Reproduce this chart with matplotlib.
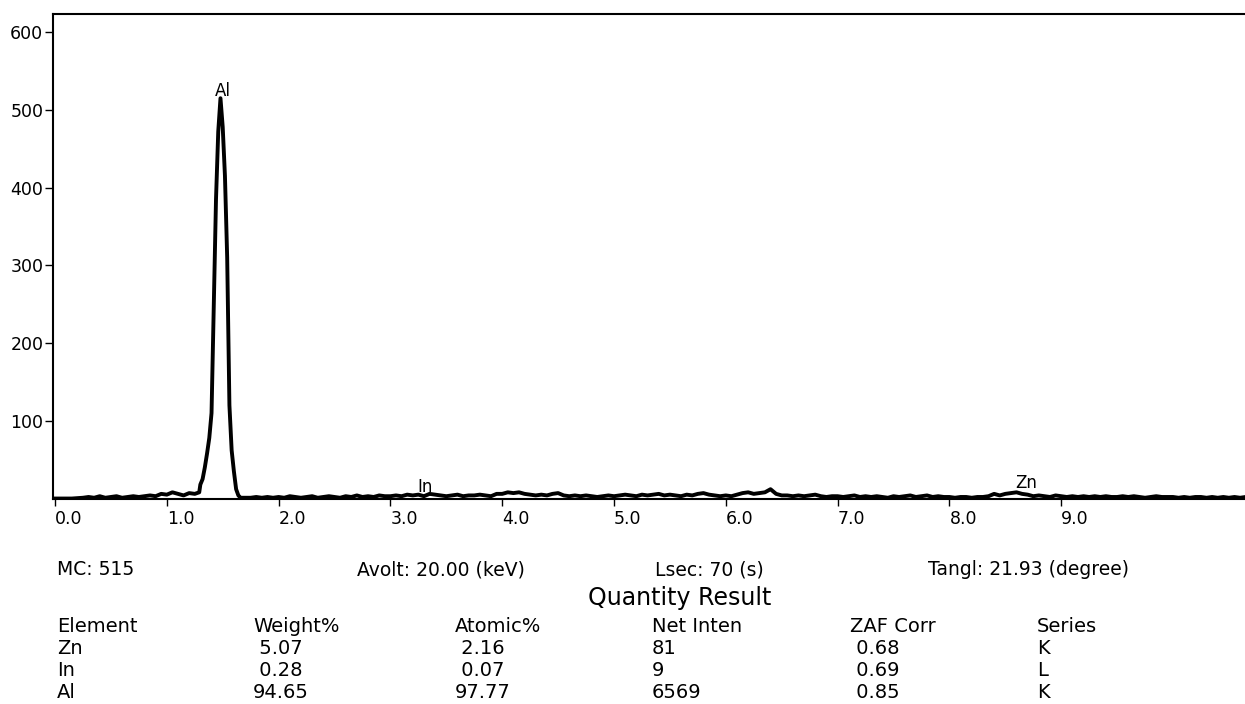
import numpy as np
import matplotlib
matplotlib.use("Agg")
import matplotlib.pyplot as plt

plt.rcParams['font.family'] = ['DejaVu Sans']

# spectrum (keV, counts)
left_energy = np.round(np.arange(0.0, 1.26, 0.05), 2)
left_counts = [0, 0, 0, 0, 0.5, 1, 2, 1, 3, 1, 2, 3, 1, 2, 3, 2, 3, 4, 3, 6,
               5, 8, 6, 4, 7, 6]

peak_energy = [1.27, 1.29, 1.30, 1.32, 1.34, 1.36, 1.38, 1.40, 1.42, 1.44,
               1.46, 1.48, 1.50, 1.52, 1.54, 1.55, 1.56, 1.58, 1.60, 1.62,
               1.64, 1.66]
peak_counts = [7, 8, 18, 25, 40, 58, 78, 110, 250, 385,
               472, 515, 478, 415, 310, 215, 120, 62, 35, 12,
               4, 1]

right_energy = np.round(np.arange(1.70, 10.66, 0.05), 2)
right_counts = (
    [1, 1, 2, 1, 2, 1] +
    [2, 1, 3, 2, 1, 2, 3, 1, 2, 3, 2, 1, 3, 2, 4, 2, 3, 2, 4, 3] +
    [3, 4, 3, 5, 4, 5, 3, 6, 5, 4, 3, 4, 5, 3, 4, 4, 5, 4, 3, 6] +
    [6, 8, 7, 8, 6, 5, 4, 5, 4, 6, 7, 4, 3, 4, 3, 4, 3, 2, 3, 4] +
    [3, 4, 5, 4, 3, 5, 4, 5, 6, 4, 5, 4, 3, 5, 4, 6, 7, 5, 4, 3] +
    [4, 3, 5, 7, 8, 6, 7, 8, 12, 6, 4, 4, 3, 4, 3, 4, 5, 3, 2, 3] +
    [3, 2, 3, 4, 2, 3, 2, 3, 2, 1, 3, 2, 3, 4, 2, 3, 4, 2, 3, 2] +
    [2, 1, 2, 2, 1, 2, 2, 3, 6, 4, 6, 7, 8, 6, 5, 3, 4, 3, 2, 4] +
    [3, 2, 3, 2, 3, 2, 3, 2, 3, 2, 2, 3, 2, 3, 2, 1, 2, 3, 2, 2] +
    [2, 1, 2, 1, 2, 2, 1, 2, 1, 2, 1, 2, 1, 2]
)

energy = np.concatenate([left_energy, peak_energy, right_energy])
counts = np.concatenate([left_counts, peak_counts, right_counts])

# peak labels
peak_names = ['Al', 'In', 'Zn']
peak_pos = [1.50, 3.31, 8.685]
peak_lab_y = [518, 8.5, 13.5]

xticks = [0, 1, 2, 3, 4, 5, 6, 7, 8, 9]
yticks = [100, 200, 300, 400, 500, 600]

# header info
info_text = ['MC: 515', 'Avolt: 20.00 (keV)', 'Lsec: 70 (s)', 'Tangl: 21.93 (degree)']
info_x = [57, 357, 655, 928]

# quantity table
columns = ['Element', 'Weight%', 'Atomic%', 'Net Inten', 'ZAF Corr', 'Series']
elements = ['Zn', 'In', 'Al']
weight = [' 5.07', ' 0.28', '94.65']
atomic = [' 2.16', ' 0.07', '97.77']
net_inten = ['81', '9', '6569']
zaf = [' 0.68', ' 0.69', ' 0.85']
series = ['K', 'L', 'K']
col_x = [57, 253, 455, 652, 850, 1037]

W, H = 1245, 704
fig = plt.figure(figsize=(W / 100, H / 100), dpi=100)
ax = fig.add_axes([53 / W, 1 - 499 / H, 1 - 53 / W, (499 - 13.5) / H])

ax.plot(energy, counts, color='black', lw=2.8, solid_joinstyle='round')
ax.set_xlim(-0.018, 10.644)
ax.set_ylim(-0.6, 624)

for name, xp, yp in zip(peak_names, peak_pos, peak_lab_y):
    ax.text(xp, yp, name, ha='center', va='baseline', fontsize=12)

ax.set_xticks(xticks)
ax.set_xticklabels([f'{v:.1f}' for v in xticks])
for lab in ax.get_xticklabels():
    lab.set_horizontalalignment('left')
ax.set_yticks(yticks)
ax.set_yticklabels([str(v) for v in yticks])
ax.tick_params(axis='x', direction='out', length=5, width=1, labelsize=12.5, pad=3)
ax.tick_params(axis='y', direction='out', length=6, width=1, labelsize=12.5, pad=1)

ax.spines['right'].set_visible(False)
for s in ['left', 'top', 'bottom']:
    ax.spines[s].set_linewidth(1.5)

# y given as text baseline in pixels from the top
def put(x, y, s, size=14):
    fig.text(x / W, 1 - y / H, s, ha='left', va='baseline', fontsize=size)

for s, xp in zip(info_text, info_x):
    put(xp, 575, s, 13.5)

put(588, 605, 'Quantity Result', 17)

for s, xp in zip(columns, col_x):
    put(xp, 632, s)

rows = list(zip(elements, weight, atomic, net_inten, zaf, series))
for i, row in enumerate(rows):
    y = 654 + i * 22
    for s, xp in zip(row, col_x):
        put(xp, y, s)

fig.savefig('out.png', dpi=100)
